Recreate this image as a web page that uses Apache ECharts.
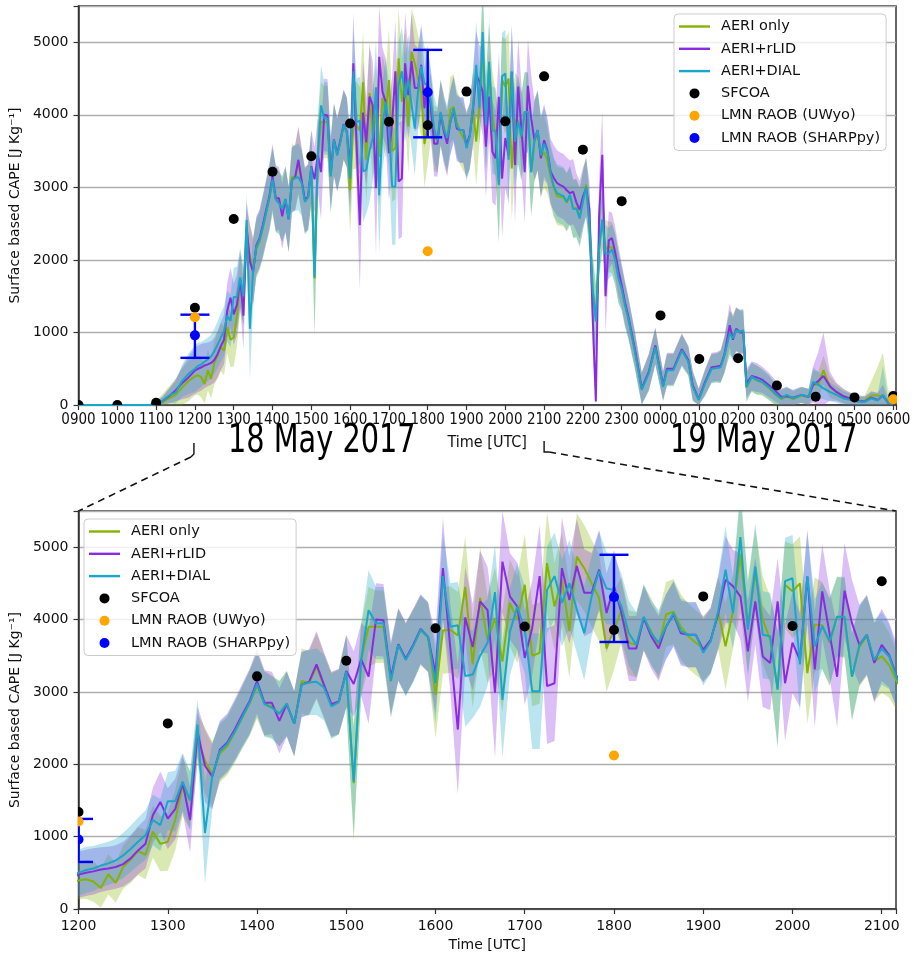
<!DOCTYPE html>
<html><head><meta charset="utf-8">
<script src="https://cdn.jsdelivr.net/npm/echarts@6/dist/echarts.min.js"></script>
<style>html,body{margin:0;padding:0;background:#fff}#main{width:915px;height:955px}</style>
</head><body><div id="main"></div>
<script>
// ---------- DATA ----------
const times = [
 "0900","0930","1000","1030","1050","1100","1110","1120","1130","1140","1150",
 "1200","1205","1210","1215","1220","1225","1230","1235","1240","1245","1250","1255",
 "1300","1305","1310","1315","1320","1325","1330","1335","1340","1345","1350","1355",
 "1400","1405","1410","1415","1420","1425","1430","1435","1440","1445","1450","1455",
 "1500","1505","1510","1515","1520","1525","1530","1535","1540","1545","1550","1555",
 "1600","1605","1610","1615","1620","1625","1630","1635","1640","1645","1650","1655",
 "1700","1705","1710","1715","1720","1725","1730","1735","1740","1745","1750","1755",
 "1800","1805","1810","1815","1820","1825","1830","1835","1840","1845","1850","1855",
 "1900","1905","1910","1915","1920","1925","1930","1935","1940","1945","1950","1955",
 "2000","2005","2010","2015","2020","2025","2030","2035","2040","2045","2050","2055",
 "2100","2105","2110","2115","2120","2125","2130","2135","2140","2145","2150","2155",
 "2200","2205","2210","2215","2220","2225","2230","2235","2240","2245","2250","2255",
 "2300",
 "2305","2310","2320","2331","2342","2352","0004","0010","0020","0033","0043","0050",
 "0059","0109","0119","0127","0133","0139","0147","0152","0157","0203","0208","0213",
 "0221","0229","0237","0247","0257","0307","0315","0325","0338","0349","0356","0404",
 "0412","0422","0432","0443","0455","0505","0516","0526","0536","0544","0552","0600"
];
const aeriOnly = [
 0,0,0,0,0,10,40,90,140,240,330,
 395,410,380,290,480,360,580,680,800,750,1070,900,
 930,1230,1690,1500,2350,2050,1860,2150,2250,2440,2640,2840,
 3080,2840,2800,2700,2840,2560,3150,3120,3350,3080,2820,2860,
 3280,1740,3440,3900,3900,3900,3150,3650,3450,3640,3850,3750,
 2960,3850,3860,3780,4450,3380,4300,3720,4020,3420,4230,4000,
 4480,3500,3540,4780,4180,4550,3840,4870,4710,4500,4300,3600,
 3860,4130,3680,3650,4020,3840,3630,4070,4110,3900,3770,3680,
 3600,3700,4100,3630,4110,4900,3900,4650,4000,3720,3050,4480,
 4390,4500,3260,3930,3920,3680,4040,4020,3210,3620,3770,3420,
 3490,3370,3150,2990,2880,2870,2860,2790,2880,2710,2720,2600,
 2820,3040,2520,1620,1180,2150,2550,2150,2180,2170,2010,1760,
 1610,
 1390,1210,770,230,450,810,260,490,490,760,610,260,
 75,310,505,515,525,700,1000,950,1040,1020,1010,240,
 380,340,310,240,150,80,120,80,130,110,280,280,
 480,250,180,120,90,60,60,130,130,120,60,80
];
const aeriRLID = [
 0,0,0,0,0,15,55,120,200,300,380,
 475,500,520,545,560,580,620,700,810,900,1300,1480,
 1250,1380,1740,1230,2450,1980,1830,2200,2300,2480,2680,2870,
 3150,2850,2850,2600,2830,2560,3100,3140,3380,3100,2830,2870,
 3290,3110,3450,3210,4000,3990,3200,3660,3460,3650,3870,3760,
 3250,4710,3600,2480,4030,3620,4250,4130,2990,4800,4320,4180,
 3470,3880,4600,3080,3120,4710,4270,4740,4370,4370,4690,4090,
 4460,4090,3600,3600,4020,3770,3600,3900,4070,3810,3790,3790,
 3580,3720,4070,4550,4460,4320,3560,4250,3490,3400,4250,3120,
 3680,3440,4590,3310,4390,3800,3210,4400,3950,3650,3790,3400,
 3650,3510,3220,3130,3060,3030,3010,2960,2920,2940,2790,2690,
 2870,2990,2700,1250,50,2600,3450,1500,2270,2300,2100,1850,
 1650,
 1420,1230,790,230,460,820,270,500,500,770,620,270,
 80,320,520,530,540,700,1100,900,1050,1000,1000,300,
 400,380,350,280,200,110,120,100,140,110,280,330,
 400,260,180,120,80,50,50,100,70,130,30,20
];
const aeriDIAL = [
 0,0,0,0,0,15,60,130,170,330,430,
 500,540,560,600,630,670,740,830,930,1020,1230,1160,
 1490,1490,1760,1500,2550,1050,1850,2180,2280,2450,2650,2850,
 3110,2830,2780,2700,2840,2560,3100,3130,3140,3060,2800,2860,
 3280,1760,3440,4130,3950,3950,3150,3650,3440,3630,3860,3760,
 3120,4600,3900,3920,3220,3240,3500,3680,4380,2890,3830,4180,
 3860,3010,3010,4410,4600,4230,4500,4140,3810,4320,4670,4430,
 4410,4180,3810,3650,4040,3810,3680,3900,4090,3840,3790,3790,
 3540,3700,4110,4690,4090,5140,3860,4730,3790,3770,3030,4530,
 4570,3380,4600,3630,3910,3700,4040,4040,3210,3650,3790,3440,
 3600,3490,3200,3010,2920,2900,2880,2800,2900,2700,2710,2570,
 2800,3010,2500,1600,1150,2150,2560,2080,2090,2140,2000,1750,
 1600,
 1380,1200,760,210,440,800,250,480,480,750,600,250,
 70,300,500,510,520,690,990,920,1030,1010,1030,250,
 390,345,320,250,160,90,140,90,140,115,320,280,
 230,180,140,90,70,45,45,90,60,140,30,20
];
// half-width of the shaded uncertainty band of each retrieval
const aeriOnlySpread = [
 10,10,10,10,10,50,110,170,220,260,280,
 260,270,280,270,280,270,300,320,330,340,360,380,
 400,420,400,400,350,450,450,400,400,420,430,450,
 450,450,430,450,450,450,450,450,460,450,450,450,
 500,800,500,550,500,500,500,500,500,500,480,480,
 600,600,600,600,700,600,700,600,700,700,600,600,
 700,700,700,700,600,650,650,600,600,600,600,600,
 550,450,450,450,450,450,450,450,450,450,450,450,
 450,450,500,600,500,800,650,600,600,600,800,600,
 650,650,700,650,600,600,550,550,600,550,550,550,
 500,450,400,400,400,400,400,400,400,400,400,400,
 400,400,400,450,500,400,400,400,350,350,350,350,
 300,
 300,280,250,220,250,250,200,220,220,220,200,200,
 150,180,200,200,220,250,300,300,300,300,300,200,
 200,200,180,170,150,120,120,110,110,110,200,180,
 200,150,110,100,80,70,70,200,400,600,150,80
];
const aeriRLIDSpread = [
 10,10,10,10,10,30,60,100,150,220,280,
 320,320,320,310,300,300,310,320,330,340,380,420,
 420,420,400,450,350,500,450,400,400,420,430,450,
 450,450,430,450,450,450,450,450,460,450,450,450,
 500,450,500,650,500,500,500,500,500,500,480,480,
 550,700,600,900,700,600,700,600,900,700,600,600,
 650,650,700,800,800,700,600,650,600,550,550,550,
 500,450,450,450,450,450,450,450,450,450,450,450,
 450,450,500,600,500,600,700,600,700,650,600,800,
 700,650,650,800,650,600,700,650,600,550,550,550,
 500,450,450,450,450,450,450,450,450,450,400,400,
 400,400,400,450,300,500,600,500,400,350,350,350,
 300,
 300,280,250,220,250,250,200,220,220,220,200,200,
 150,180,200,200,220,250,300,300,300,300,300,200,
 200,200,180,170,150,120,120,110,110,110,250,400,
 600,200,130,100,80,70,70,90,100,150,60,50
];
const aeriDIALSpread = [
 10,10,10,10,10,30,60,100,150,220,280,
 320,320,310,300,300,300,310,320,330,340,350,360,
 400,420,400,400,350,700,450,400,400,420,430,450,
 450,450,430,450,450,450,450,450,460,450,450,450,
 500,750,500,550,500,500,500,500,500,500,480,480,
 550,600,600,600,700,600,700,600,650,800,600,600,
 600,800,800,600,600,600,600,600,650,550,550,500,
 480,450,450,450,450,450,450,450,450,450,450,450,
 450,450,500,600,500,700,650,600,600,600,800,600,
 600,650,600,650,600,600,550,550,600,550,550,550,
 500,450,400,400,400,400,400,400,400,400,400,400,
 400,400,400,450,500,400,400,400,350,350,350,350,
 300,
 300,280,250,220,250,250,200,220,220,220,200,200,
 150,180,200,200,220,250,300,300,300,300,300,200,
 200,200,180,170,150,120,120,110,110,110,200,180,
 150,130,110,100,80,70,70,90,100,400,60,50
];
const sfcoaTimes = ["0900","1000","1100","1200","1300","1400","1500","1600","1700","1800","1900","2000","2100","2200","2300","0000","0100","0200","0300","0400","0500","0600"];
const sfcoaValues = [0,0,30,1340,2565,3215,3430,3880,3905,3855,4320,3910,4530,3520,2810,1235,635,645,270,115,105,125];
const uwyoTimes = ["1200","1800","0600"];
const uwyoValues = [1210,2120,80];
const sharpTimes = ["1200","1800"];
const sharpValues = [960,4310];
const sharpLow = [650,3690];
const sharpHigh = [1245,4895];
const yTicks = [0,1000,2000,3000,4000,5000];

// ---------- STYLE ----------
const FN = "'DejaVu Sans', sans-serif";
const FNN = "'DejaVu Sans Condensed','Liberation Sans Narrow',sans-serif";
const COL = {aeri:'#86b300', rlid:'#8a2be2', dial:'#1aa6c9'};
const BAND_OP = 0.3;

function toHour(s){ let v = +s.slice(0,2) + (+s.slice(2))/60; if (v < 9) v += 24; return v; }
const tH = times.map(toHour);

function fmtHour(v){
  if (Math.abs(v - Math.round(v)) > 1e-6) return '';
  const h = Math.round(v) % 24;
  return (h < 10 ? '0' : '') + h + '00';
}

const retrievals = [
  {name:'AERI only', vals:aeriOnly, spr:aeriOnlySpread, color:COL.aeri},
  {name:'AERI+rLID', vals:aeriRLID, spr:aeriRLIDSpread, color:COL.rlid},
  {name:'AERI+DIAL', vals:aeriDIAL, spr:aeriDIALSpread, color:COL.dial}
];
const anchor = tH.indexOf(16);

function seriesFor(g){
  const out = [];
  // shaded bands (value +- spread), drawn as one polygon through the axes' own coord()
  retrievals.forEach(r => {
    const pts = r.vals.map((v,i) => [tH[i], Math.max(0, v - r.spr[i]), v + r.spr[i]]);
    out.push({type:'custom', xAxisIndex:g, yAxisIndex:g, clip:true, silent:true, z:1,
      data:[[tH[anchor], r.vals[anchor]]],
      renderItem(params, api){
        const up = pts.map(p => api.coord([p[0], p[2]]));
        const lo = pts.map(p => api.coord([p[0], p[1]])).reverse();
        return {type:'polygon', shape:{points:up.concat(lo)}, style:{fill:r.color, opacity:BAND_OP}};
      }});
  });
  retrievals.forEach(r => {
    out.push({type:'line', name:r.name, xAxisIndex:g, yAxisIndex:g,
      data:r.vals.map((v,i)=>[tH[i], v]), symbol:'none', lineStyle:{color:r.color, width:2},
      itemStyle:{color:r.color}, z:2, silent:true});
  });
  out.push({type:'custom', xAxisIndex:g, yAxisIndex:g, clip:true, z:3, silent:true,
    data: sharpTimes.map((t,i)=>[toHour(t), sharpLow[i], sharpHigh[i]]),
    encode:{x:0, y:[1,2]},
    renderItem(params, api){
      const x = api.value(0), lo = api.value(1), hi = api.value(2);
      const p1 = api.coord([x, lo]), p2 = api.coord([x, hi]);
      const w = 14.5, st = {stroke:'#0000ff', lineWidth:2.4};
      return {type:'group', children:[
        {type:'line', shape:{x1:p1[0], y1:p1[1], x2:p2[0], y2:p2[1]}, style:st},
        {type:'line', shape:{x1:p1[0]-w, y1:p1[1], x2:p1[0]+w, y2:p1[1]}, style:st},
        {type:'line', shape:{x1:p2[0]-w, y1:p2[1], x2:p2[0]+w, y2:p2[1]}, style:st}
      ]};
    }});
  const marker = (name, tArr, vArr, color) => ({type:'custom', name, xAxisIndex:g, yAxisIndex:g,
    clip:true, z:4, silent:true, itemStyle:{color},
    data:tArr.map((t,i)=>[toHour(t), vArr[i]]), encode:{x:0, y:1},
    renderItem(params, api){
      const p = api.coord([api.value(0), api.value(1)]);
      return {type:'circle', shape:{cx:p[0], cy:p[1], r:5}, style:{fill:color}};
    }});
  out.push(marker('SFCOA', sfcoaTimes, sfcoaValues, '#000000'));
  out.push(marker('LMN RAOB (UWyo)', uwyoTimes, uwyoValues, '#ffa500'));
  out.push(marker('LMN RAOB (SHARPpy)', sharpTimes, sharpValues, '#0000ff'));
  return out;
}

const lineIcon = 'path://M0,0L31,0L31,2.4L0,2.4Z';
function legendCfg(left, top){
  return {left, top, orient:'vertical', itemWidth:31, itemHeight:10, itemGap:7.3,
    padding:[5,6,5,5], backgroundColor:'rgba(255,255,255,0.8)', borderColor:'#cccccc',
    borderWidth:1, borderRadius:4, selectedMode:false, z:10,
    textStyle:{fontFamily:FN, fontSize:14.5, color:'#111', padding:[0,0,0,6]},
    data:[{name:'AERI only', icon:lineIcon},{name:'AERI+rLID', icon:lineIcon},{name:'AERI+DIAL', icon:lineIcon},
      {name:'SFCOA', icon:'circle', itemStyle:{color:'#000000'}},
      {name:'LMN RAOB (UWyo)', icon:'circle', itemStyle:{color:'#ffa500'}},
      {name:'LMN RAOB (SHARPpy)', icon:'circle', itemStyle:{color:'#0000ff'}}]};
}

function yAxisCfg(g){
  return {type:'value', gridIndex:g, min:0, max:5500, interval:1000,
    name:'Surface based CAPE [J Kg\u207B\u00B9]', nameLocation:'middle', nameGap:54,
    nameTextStyle:{fontFamily:FN, fontSize:14, color:'#111'},
    axisLine:{show:true, lineStyle:{color:'#333', width:1.5}},
    axisTick:{show:true, inside:false, length:5, lineStyle:{color:'#333', width:1.2}},
    axisLabel:{fontFamily:FN, fontSize:14, color:'#111', margin:10,
      formatter:v => yTicks.indexOf(v) >= 0 ? String(v) : ''},
    splitLine:{show:true, lineStyle:{color:'#b0b0b0', width:1.3}}};
}

const chart = echarts.init(document.getElementById('main'), null, {renderer:'canvas'});
const option = {
  animation:false,
  backgroundColor:'#fff',
  grid:[
    {left:77, top:6, width:819, height:399, show:true, borderColor:'#333', borderWidth:1.5, backgroundColor:'transparent'},
    {left:77, top:511, width:819, height:398, show:true, borderColor:'#333', borderWidth:1.5, backgroundColor:'transparent'}
  ],
  xAxis:[
    {type:'value', gridIndex:0, min:9, max:30.07, interval:1,
      name:'Time [UTC]', nameLocation:'middle', nameGap:30,
      nameTextStyle:{fontFamily:FNN, fontSize:16, color:'#111'},
      axisLine:{show:true, onZero:false, lineStyle:{color:'#333', width:1.5}},
      axisTick:{show:true, length:5, lineStyle:{color:'#333', width:1.2}},
      axisLabel:{fontFamily:FNN, fontSize:15, color:'#111', margin:8, formatter:fmtHour,
        showMinLabel:true, hideOverlap:false},
      splitLine:{show:false}},
    {type:'value', gridIndex:1, min:12, max:21.16, interval:1,
      name:'Time [UTC]', nameLocation:'middle', nameGap:29,
      nameTextStyle:{fontFamily:FN, fontSize:14, color:'#111'},
      axisLine:{show:true, onZero:false, lineStyle:{color:'#333', width:1.5}},
      axisTick:{show:true, length:5, lineStyle:{color:'#333', width:1.2}},
      axisLabel:{fontFamily:FN, fontSize:14, color:'#111', margin:10, formatter:fmtHour, showMinLabel:true},
      splitLine:{show:false}}
  ],
  yAxis:[yAxisCfg(0), yAxisCfg(1)],
  legend:[legendCfg(674, 14), legendCfg(84, 519)],
  series: seriesFor(0).concat(seriesFor(1))
};
chart.setOption(option);

// annotations linking the two panels
const a = chart.convertToPixel({gridIndex:0}, [12, 0]);
const b = chart.convertToPixel({gridIndex:0}, [21, 0]);
const c0 = chart.convertToPixel({gridIndex:1}, [12, 5500]);
const c1 = chart.convertToPixel({gridIndex:1}, [21.16, 5500]);
const solid = {stroke:'#111', lineWidth:1.4, fill:null};
const dashed = {stroke:'#111', lineWidth:1.6, lineDash:[7,5], fill:null};
const bigFont = "32px 'DejaVu Sans Condensed','Liberation Sans Narrow',sans-serif";
chart.setOption({graphic:[
  {type:'polyline', shape:{points:[[a[0]-1,443],[a[0]-1,454],[a[0]-4,457]]}, style:solid},
  {type:'line', shape:{x1:a[0]-4, y1:457, x2:c0[0], y2:c0[1]}, style:dashed},
  {type:'polyline', shape:{points:[[b[0],441],[b[0],452],[b[0]+5,452]]}, style:solid},
  {type:'line', shape:{x1:b[0]+5, y1:452, x2:c1[0], y2:c1[1]}, style:dashed},
  {type:'text', x:228, y:422, scaleY:1.22, style:{text:'18 May 2017', font:bigFont, fill:'#000'}},
  {type:'text', x:670, y:422, scaleY:1.22, style:{text:'19 May 2017', font:bigFont, fill:'#000'}}
]});
</script></body></html>
